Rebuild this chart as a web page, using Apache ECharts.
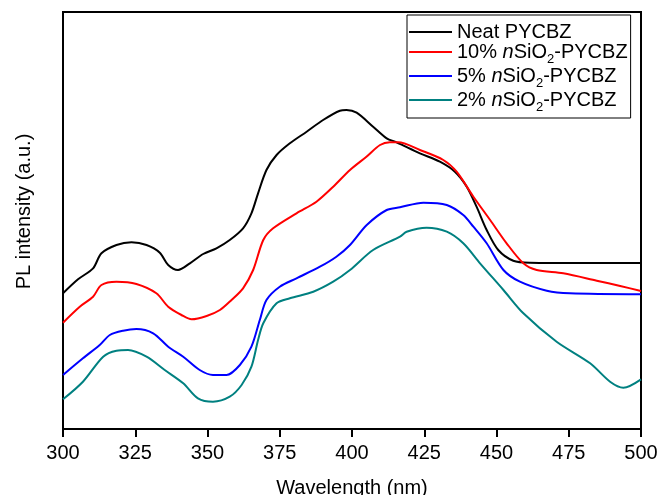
<!DOCTYPE html>
<html>
<head>
<meta charset="utf-8">
<script src="https://cdn.jsdelivr.net/npm/echarts@6/dist/echarts.min.js"></script>
<style>
  html, body { margin: 0; padding: 0; background: #fff; }
  #root { width: 660px; height: 495px; }
</style>
</head>
<body>
<div id="root"></div>
<script>
  // intensity in arbitrary units
  var seriesNames = ["Neat PYCBZ", "10% nSiO2-PYCBZ", "5% nSiO2-PYCBZ", "2% nSiO2-PYCBZ"];
  var xTicks = [300, 325, 350, 375, 400, 425, 450, 475, 500];

  var neatX = [300, 305.2, 310.4, 313.3, 318.5, 323.7, 328.9, 333.5, 336.4, 339.8, 343.9, 348.5, 353.1, 357.7, 362.3, 365.2, 367.5, 370.4, 373.9, 378.5, 384.3, 390, 395.8, 398.1, 401.6, 407.3, 412, 415.4, 423.5, 430.4, 435.6, 439.7, 443.1, 446.6, 450.6, 455.8, 461.6, 480, 500];
  var neatY = [135.7, 149.7, 160.7, 175.7, 184, 186.7, 184, 176.3, 164, 159, 165.7, 175, 180.7, 189, 200.7, 215.7, 235.7, 259, 274, 285.7, 297.3, 309, 318.3, 319, 316.3, 302.3, 290.7, 286.7, 275.7, 267.3, 257.3, 242.3, 222.3, 199, 179, 168.3, 166.3, 166, 166];

  var tenX = [300, 305.8, 310.4, 313.3, 318.5, 325.4, 332.3, 336.4, 341, 344.5, 349.7, 354.3, 358.3, 362.3, 365.8, 369.3, 372.7, 380.8, 387.7, 393.5, 399.3, 405, 409.7, 413.1, 416, 423.5, 431.6, 436.2, 442, 447.8, 453.5, 459.3, 463.9, 473.1, 484.7, 492.8, 500];
  var tenY = [106.3, 122.3, 132.3, 144, 147.3, 145, 135.7, 122.3, 114, 109.7, 113, 119, 129, 140.7, 159, 189, 200.7, 215.7, 227.3, 242.3, 259, 272.3, 284, 286.7, 286.7, 279, 269, 257.3, 232.3, 209, 185.7, 165.7, 159, 155.7, 148.3, 143, 138];

  var fiveX = [300, 306.9, 312.7, 316.2, 320.8, 325.4, 331.2, 336.4, 341.6, 347.3, 351.9, 356.6, 361.2, 365.2, 368.1, 370.4, 375, 380.8, 388.9, 394.6, 399.3, 405.1, 412, 416.6, 424.7, 432.8, 438.5, 442, 446.6, 452.4, 458.1, 467.4, 475.4, 500];
  var fiveY = [54, 70.7, 84, 94, 98.3, 100, 95.7, 82.3, 72.3, 59, 54, 54, 64, 82.3, 109, 129, 142.3, 150.7, 162.3, 172.3, 184, 204, 219, 221.7, 226.3, 224, 214, 202.3, 185.7, 159, 147.3, 138.3, 135.7, 134.7];

  var twoX = [300, 306.9, 313.9, 318.5, 322.5, 328.9, 335.2, 341.6, 346.7, 351.9, 357.7, 361.8, 365.2, 367.5, 369.3, 373.9, 378.5, 386.6, 393.5, 399.3, 407.3, 416.6, 418.9, 425.8, 432.8, 438.5, 444.3, 452.4, 459.3, 470.8, 482.4, 489.3, 493.9, 500];
  var twoY = [29.7, 47.3, 72.3, 78.3, 79, 72.3, 59, 45.7, 30.7, 27.3, 32.3, 44, 62.3, 89, 105.7, 125.7, 130.7, 137.3, 147.3, 159, 179, 192.3, 197.3, 201.3, 197.3, 185.7, 165.7, 139, 115.7, 87.3, 65.7, 47.3, 41.3, 49.7];

  var colors = ["#000000", "#ff0000", "#0000ff", "#008080"];

  function pairs(xs, ys) {
    return xs.map(function (x, i) { return [x, ys[i]]; });
  }

  var font = "Liberation Sans, Arial, sans-serif";
  var chart = echarts.init(document.getElementById("root"));

  var allData = [pairs(neatX, neatY), pairs(tenX, tenY), pairs(fiveX, fiveY), pairs(twoX, twoY)];

  chart.setOption({
    animation: false,
    color: colors,
    grid: {
      left: 63, right: 19, top: 12, bottom: 66,
      outerBoundsMode: "none",
      containLabel: false,
      show: true, borderColor: "#000", borderWidth: 2
    },
    legend: {
      left: 407, top: 15,
      orient: "vertical",
      selectedMode: false,
      borderColor: "#000", borderWidth: 1,
      padding: [7, 3, 4, 2],
      itemWidth: 43, itemHeight: 2, itemGap: 0,
      icon: "rect",
      data: seriesNames,
      formatter: function (name) {
        if (name.indexOf("nSiO2") < 0) return "{t|" + name + "}";
        var pct = name.split(" ")[0];
        return "{t|" + pct + " }{i|n}{t|SiO}{s|2}{t|-PYCBZ}";
      },
      textStyle: {
        fontFamily: font, fontSize: 20, color: "#000", lineHeight: 20,
        rich: {
          t: { fontFamily: font, fontSize: 20, color: "#000", lineHeight: 20 },
          i: { fontFamily: font, fontSize: 20, color: "#000", fontStyle: "italic", lineHeight: 20 },
          s: { fontFamily: font, fontSize: 13, color: "#000", lineHeight: 20, verticalAlign: "bottom", padding: [0, 0, -4, 0] }
        }
      }
    },
    xAxis: {
      type: "value",
      min: 300, max: 500, interval: 25,
      name: "Wavelength (nm)",
      nameLocation: "middle",
      nameGap: 49,
      nameTextStyle: { fontFamily: font, fontSize: 20, color: "#000" },
      axisLine: { lineStyle: { color: "#000", width: 2 } },
      axisTick: { length: 8, lineStyle: { color: "#000", width: 2 } },
      axisLabel: {
        fontFamily: font, fontSize: 20, color: "#000", margin: 14,
        formatter: function (v) { return xTicks.indexOf(v) >= 0 ? String(v) : ""; }
      },
      splitLine: { show: false }
    },
    yAxis: {
      type: "value",
      min: 0, max: 417,
      name: "PL intensity (a.u.)",
      nameLocation: "middle",
      nameGap: 29,
      nameTextStyle: { fontFamily: font, fontSize: 20, color: "#000", padding: [0, 0, 0, 18] },
      axisLine: { show: true, lineStyle: { color: "#000", width: 2 } },
      axisTick: { show: false },
      axisLabel: { show: false },
      splitLine: { show: false }
    },
    series: seriesNames.map(function (name, i) {
      return {
        name: name,
        type: "line",
        data: allData[i],
        showSymbol: false,
        smooth: 0.3,
        lineStyle: { width: 2, color: colors[i] },
        itemStyle: { color: colors[i] }
      };
    })
  });
</script>
</body>
</html>
